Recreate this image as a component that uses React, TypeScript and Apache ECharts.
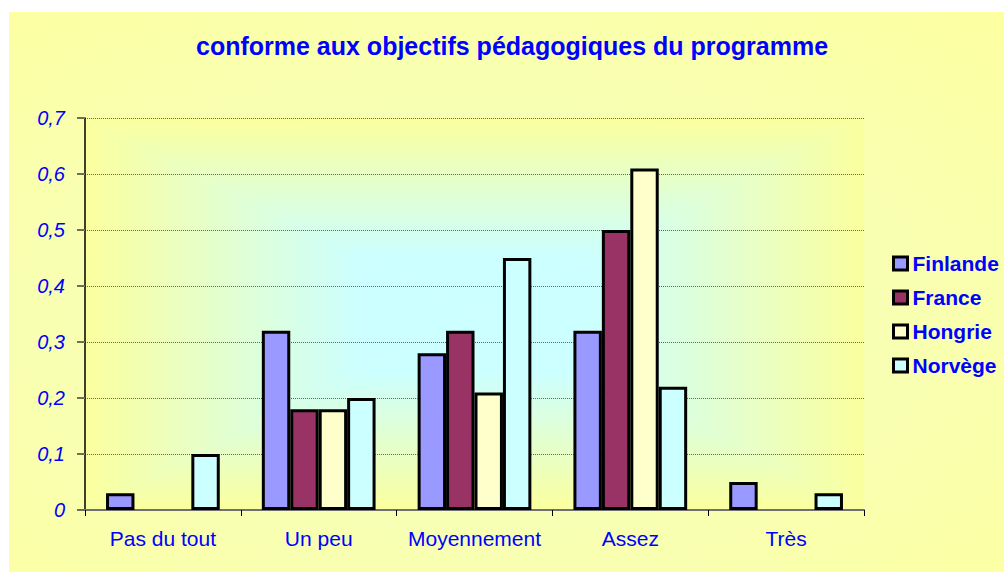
import React, { useEffect, useRef } from "react";
import * as echarts from "echarts";

const titleText = "conforme aux objectifs pédagogiques du programme";
const categories = ["Pas du tout", "Un peu", "Moyennement", "Assez", "Très"];
const seriesNames = ["Finlande", "France", "Hongrie", "Norvège"];
const finlande = [0.03, 0.32, 0.28, 0.32, 0.05];
const france = [0, 0.18, 0.32, 0.5, 0];
const hongrie = [0, 0.18, 0.21, 0.61, 0];
const norvege = [0.1, 0.2, 0.45, 0.22, 0.03];
const seriesValues = [finlande, france, hongrie, norvege];
const seriesColors = ["#9999FF", "#993366", "#FFFFCC", "#CCFFFF"];
const yMin = 0;
const yMax = 0.7;
const yInterval = 0.1;

const FONT = "'Liberation Sans', Arial, Helvetica, sans-serif";
const BLUE = "#0000FF";
const W = 995;
const H = 560;
const GRID = { left: 76, top: 106, right: 140, bottom: 62 };

function plotBackground() {
  const L = GRID.left;
  const T = GRID.top;
  const R = W - GRID.right;
  const B = H - GRID.bottom;
  const cx = (L + R) / 2;
  const cy = (T + B) / 2;
  const stops = [
    { offset: 0, color: "#FBFF9E" },
    { offset: 0.7, color: "#CCFFFF" },
    { offset: 1, color: "#CCFFFF" },
  ];
  const mk = (points: number[][], x: number, y: number, x2: number, y2: number) => ({
    type: "polygon",
    z: -10,
    silent: true,
    shape: { points },
    style: {
      fill: { type: "linear", x, y, x2, y2, colorStops: stops },
      stroke: null,
    },
  });
  return [
    mk([[L, T], [R, T], [cx, cy]], 0, 0, 0, 1),
    mk([[L, B], [R, B], [cx, cy]], 0, 1, 0, 0),
    mk([[L, T], [L, B], [cx, cy]], 0, 0, 1, 0),
    mk([[R, T], [R, B], [cx, cy]], 1, 0, 0, 0),
  ];
}

export default function App() {
  const ref = useRef<HTMLDivElement>(null);
  useEffect(() => {
    if (!ref.current) return;
    const chart = echarts.init(ref.current, undefined, { renderer: "svg" });
    chart.setOption({
      animation: false,
      backgroundColor: {
        type: "radial",
        x: 0.47,
        y: 0.55,
        r: 0.9,
        colorStops: [
          { offset: 0, color: "#F2FFC8" },
          { offset: 1, color: "#FFFF99" },
        ],
      },
      title: {
        text: titleText,
        left: 182,
        top: 16,
        textStyle: { color: BLUE, fontFamily: FONT, fontWeight: "bold", fontSize: 25 },
      },
      graphic: plotBackground(),
      legend: {
        data: seriesNames,
        orient: "vertical",
        left: 878,
        top: 236,
        itemWidth: 14,
        itemHeight: 13,
        itemGap: 13,
        icon: "rect",
        itemStyle: { borderColor: "#000", borderWidth: 3 },
        textStyle: {
          color: BLUE,
          fontFamily: FONT,
          fontWeight: "bold",
          fontSize: 21,
          lineHeight: 21,
        },
      },
      grid: { left: GRID.left, top: GRID.top, right: GRID.right, bottom: GRID.bottom },
      xAxis: {
        type: "category",
        data: categories,
        axisLine: { lineStyle: { color: "#707070", width: 2 } },
        axisTick: { show: true, length: 6, lineStyle: { color: "#000", width: 1 } },
        axisLabel: { interval: 0, color: BLUE, fontFamily: FONT, fontSize: 21, margin: 18 },
      },
      yAxis: {
        type: "value",
        min: yMin,
        max: yMax,
        interval: yInterval,
        axisLine: { show: true, lineStyle: { color: "#000", width: 1.5 } },
        axisTick: { show: true, length: 8, lineStyle: { color: "#707050", width: 2 } },
        axisLabel: {
          color: BLUE,
          fontFamily: FONT,
          fontSize: 20,
          fontStyle: "italic",
          margin: 20,
          formatter: (v: number) => String(+v.toFixed(1)).replace(".", ","),
        },
        splitLine: { show: true, lineStyle: { color: "#5050FF", width: 1, type: [1, 1] } },
      },
      series: seriesNames.map((name, i) => ({
        name,
        type: "bar",
        barGap: "0%",
        barCategoryGap: "27%",
        itemStyle: { color: seriesColors[i], borderColor: "#000", borderWidth: 3 },
        data: seriesValues[i].map((v) =>
          v === 0 ? { value: v, itemStyle: { borderWidth: 0 } } : v
        ),
      })),
    });
    return () => chart.dispose();
  }, []);
  return (
    <div style={{ position: "absolute", left: 0, top: 0, width: 1004, height: 572, background: "#fff" }}>
      <div ref={ref} style={{ position: "absolute", left: 9, top: 12, width: W, height: H }} />
    </div>
  );
}
